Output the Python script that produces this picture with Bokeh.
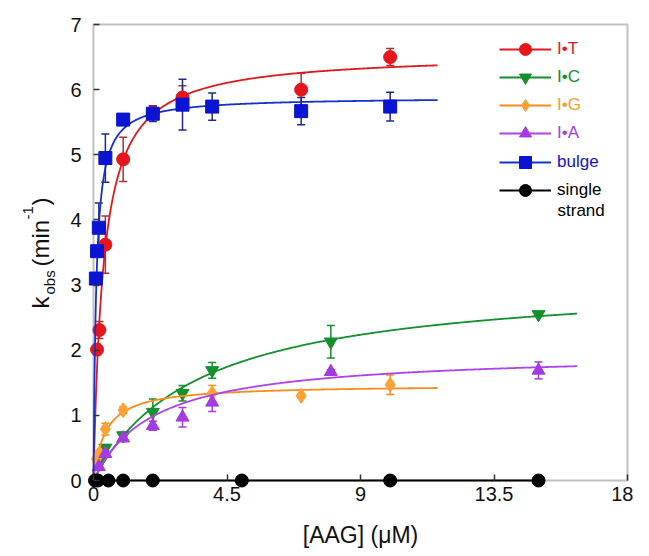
import math
import numpy as np
from bokeh.plotting import figure
from bokeh.models import (Range1d, ColumnDataSource, Whisker, TeeHead, BoxAnnotation,
                          Label, Legend, LegendItem, FixedTicker)
from bokeh.embed import file_html
from bokeh.resources import INLINE

# ---------------- data ----------------
x_ticks = [0, 4.5, 9, 13.5, 18]
x_tick_labels = ["0", "4.5", "9", "13.5", "18"]
y_ticks = [0, 1, 2, 3, 4, 5, 6, 7]

it_x = [0.12, 0.2, 0.4, 1, 2, 3, 7, 10]
it_y = [2.01, 2.31, 3.62, 4.93, 5.65, 5.88, 6.0, 6.5]
it_err = [0.08, 0.13, 0.44, 0.34, 0.1, 0.18, 0.25, 0.13]
it_fit = {"kmax": 6.556, "K": 0.333, "xend": 11.6}

ic_x = [0.2, 0.4, 1, 2, 3, 4, 8, 15]
ic_y = [0.28, 0.5, 0.69, 1.05, 1.34, 1.69, 2.13, 2.55]
ic_err = [0.03, 0.05, 0.05, 0.2, 0.12, 0.12, 0.25, 0.03]
ic_fit = {"kmax": 3.12, "K": 3.55, "xend": 16.3}

ig_x = [0.1, 0.2, 0.4, 1, 4, 7, 10]
ig_y = [0.33, 0.42, 0.79, 1.08, 1.34, 1.30, 1.47]
ig_err = [0.03, 0.04, 0.09, 0.05, 0.12, 0.03, 0.15]
ig_fit = {"kmax": 1.469, "K": 0.399, "xend": 11.6}

ia_x = [0.18, 0.4, 1, 2, 3, 4, 8, 15]
ia_y = [0.21, 0.41, 0.65, 0.84, 0.97, 1.2, 1.67, 1.69]
ia_err = [0.03, 0.05, 0.05, 0.07, 0.15, 0.14, 0.03, 0.13]
ia_fit = {"kmax": 1.97, "K": 2.0, "xend": 16.3}

bu_x = [0.08, 0.12, 0.18, 0.4, 1, 2, 3, 4, 7, 10]
bu_y = [3.1, 3.52, 3.88, 4.95, 5.54, 5.63, 5.77, 5.74, 5.67, 5.74]
bu_err = [0.05, 0.05, 0.38, 0.37, 0.05, 0.12, 0.39, 0.21, 0.21, 0.22]
bu_fit = {"kmax": 5.886, "K": 0.091, "xend": 11.6}

ss_x = [0.05, 0.15, 0.5, 1, 2, 5, 10, 15]
ss_y = [0, 0, 0, 0, 0, 0, 0, 0]

FONT = "Liberation Sans"

# ---------------- layout: frame covers the whole canvas ----------------
W, H = 633, 556
X0_PX, X18_PX = 93, 627      # canvas px of x=0 and x=18
Y0_PX, Y7_PX = 480, 24       # canvas px of y=0 and y=7
SX = (X18_PX - X0_PX) / 18.0
SY = (Y0_PX - Y7_PX) / 7.0


def dx(px):
    return (px - X0_PX) / SX


def dy(py):
    return (Y0_PX - py) / SY


p = figure(width=W, height=H, x_range=Range1d(dx(0), dx(W)), y_range=Range1d(dy(H), dy(0)),
           output_backend="svg", toolbar_location=None,
           min_border_left=0, min_border_right=0, min_border_top=0, min_border_bottom=0)
p.outline_line_color = None
p.grid.visible = False
p.background_fill_color = "white"
p.border_fill_color = "white"

# frame box
p.add_layout(BoxAnnotation(left=0, right=18, bottom=0, top=7, fill_alpha=0,
                           line_color="#333333", line_width=2, level="underlay"))

xa = p.xaxis[0]
xa.fixed_location = 0
xa.bounds = (0, 18)
xa.ticker = FixedTicker(ticks=x_ticks)
xa.major_label_overrides = {t: l for t, l in zip(x_ticks, x_tick_labels)}
xa.major_label_standoff = 6

ya = p.yaxis[0]
ya.fixed_location = 0
ya.bounds = (0, 7)
ya.ticker = FixedTicker(ticks=y_ticks)
ya.major_label_standoff = 12

for ax in (xa, ya):
    ax.axis_line_color = None
    ax.major_tick_in = 6
    ax.major_tick_out = 0
    ax.minor_tick_line_color = None
    ax.major_tick_line_color = "#333333"
    ax.major_tick_line_width = 1.5
    ax.major_label_text_font = FONT
    ax.major_label_text_font_size = "20px"
    ax.major_label_text_color = "#111111"


def add_series(xs, ys, errs, fit, marker, size, color, line_color, err_color):
    src = ColumnDataSource(dict(x=xs, y=ys, up=[a + b for a, b in zip(ys, errs)],
                                lo=[a - b for a, b in zip(ys, errs)]))
    w = Whisker(source=src, base="x", upper="up", lower="lo", line_color=err_color,
                line_width=1.5,
                upper_head=TeeHead(size=8, line_color=err_color, line_width=1.5),
                lower_head=TeeHead(size=8, line_color=err_color, line_width=1.5))
    p.add_layout(w)
    fx = np.linspace(0, fit["xend"], 400)
    fy = fit["kmax"] * fx / (fit["K"] + fx)
    lr = p.line(fx, fy, line_color=line_color, line_width=1.8)
    sr = p.scatter(x="x", y="y", source=src, marker=marker, size=size,
                   fill_color=color, line_color=color)
    return lr, sr


r_it = add_series(it_x, it_y, it_err, it_fit, "circle", 13, "#E8141C", "#E0191E", "#B0302E")
r_ic = add_series(ic_x, ic_y, ic_err, ic_fit, "inverted_triangle", 13, "#14902E", "#14902E", "#14902E")
r_ig = add_series(ig_x, ig_y, ig_err, ig_fit, "diamond", 15, "#FFA035", "#FF8C1A", "#FF8C1A")
r_ia = add_series(ia_x, ia_y, ia_err, ia_fit, "triangle", 13, "#A43BE0", "#B040F0", "#A43BE0")
r_bu = add_series(bu_x, bu_y, bu_err, bu_fit, "square", 13, "#0A14D2", "#1432D2", "#1E2A8C")

ss_line = p.line(ss_x, ss_y, line_color="black", line_width=1.8)
ss_sc = p.scatter(ss_x, ss_y, marker="circle", size=13, fill_color="black", line_color="black")

# legends (one per item to colour each label)
leg_items = [
    ("I\u2022T", "#E8141C", r_it, 49),
    ("I\u2022C", "#14902E", r_ic, 77),
    ("I\u2022G", "#FF9A2E", r_ig, 105),
    ("I\u2022A", "#A040E0", r_ia, 133),
    ("bulge", "#1414C8", r_bu, 162),
    ("single", "black", (ss_line, ss_sc), 190),
]
for lab, col, rends, cy in leg_items:
    leg = Legend(items=[LegendItem(label=lab, renderers=list(rends))],
                 location=(499, H - (cy + 15)))
    leg.glyph_width = 52
    leg.glyph_height = 30
    leg.padding = 0
    leg.margin = 0
    leg.spacing = 0
    leg.border_line_color = None
    leg.background_fill_alpha = 0
    leg.label_standoff = 6
    leg.label_text_font = FONT
    leg.label_text_font_size = "17px"
    leg.label_text_color = col
    p.add_layout(leg)

p.add_layout(Label(x=dx(557), y=dy(210), text="strand", text_font=FONT, text_font_size="17px",
                   text_color="black", text_baseline="middle", text_align="left"))

# axis titles
p.add_layout(Label(x=9, y=dy(534), text="[AAG] (\u03bcM)",
                   text_font=FONT, text_font_size="23px", text_color="#111111",
                   text_align="center", text_baseline="alphabetic"))

# (text, baseline px, start px, font size)
ylab_parts = [
    ("k", 40, 308, "24px"),
    ("obs", 49, 294, "15px"),
    ("(min", 40, 266, "24px"),
    ("-1", 27, 219, "15px"),
    (")", 40, 205, "24px"),
]
for txt, bx, by, fs in ylab_parts:
    p.add_layout(Label(x=dx(bx), y=dy(by), text=txt,
                       angle=math.pi / 2, text_font=FONT, text_font_size=fs,
                       text_color="#111111", text_align="left", text_baseline="alphabetic"))

open("out.html", "w").write(file_html(p, INLINE))
